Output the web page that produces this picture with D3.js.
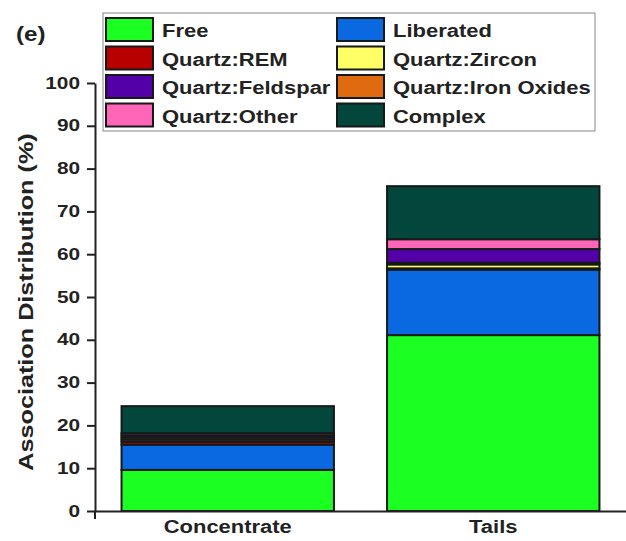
<!DOCTYPE html>
<html>
<head>
<meta charset="utf-8">
<script src="https://cdn.jsdelivr.net/npm/d3@7"></script>
<style>
  html, body { margin: 0; padding: 0; background: #fff; }
  svg { display: block; font-family: "Liberation Sans", Arial, sans-serif; }
</style>
</head>
<body>
<svg id="chart" width="626" height="541"></svg>
<script>
// Samples on the x axis
const categories = ["Concentrate", "Tails"];

// Association classes, bottom of the stack first
const seriesNames = ["Free", "Liberated", "Quartz:REM", "Quartz:Zircon",
  "Quartz:Iron Oxides", "Quartz:Feldspar", "Quartz:Other", "Complex"];

// Percent of each class, one value per sample (Concentrate, Tails)
const free        = [9.6, 41.1];
const liberated   = [5.9, 15.3];
const quartzREM   = [0.7, 0.3];
const quartzZircon= [0.5, 0.9];
const quartzIron  = [0.5, 0.4];
const quartzFeld  = [0.5, 3.2];
const quartzOther = [0.5, 2.3];
const complex     = [6.3, 12.4];

const yTicks = [0, 10, 20, 30, 40, 50, 60, 70, 80, 90, 100];

// Legend entries in reading order (two columns)
const legendOrder = ["Free", "Liberated", "Quartz:REM", "Quartz:Zircon",
  "Quartz:Feldspar", "Quartz:Iron Oxides", "Quartz:Other", "Complex"];

const colors = {
  "Free": "#1cff22",
  "Liberated": "#0a68e0",
  "Quartz:REM": "#b80000",
  "Quartz:Zircon": "#ffff66",
  "Quartz:Iron Oxides": "#e06a10",
  "Quartz:Feldspar": "#5400a8",
  "Quartz:Other": "#ff66b8",
  "Complex": "#02463c"
};

const valuesBySeries = {
  "Free": free, "Liberated": liberated, "Quartz:REM": quartzREM,
  "Quartz:Zircon": quartzZircon, "Quartz:Iron Oxides": quartzIron,
  "Quartz:Feldspar": quartzFeld, "Quartz:Other": quartzOther, "Complex": complex
};

const rows = categories.map((c, i) => {
  const r = { category: c };
  seriesNames.forEach(s => r[s] = valuesBySeries[s][i]);
  return r;
});

// Widen a text run along its direction (the labels use a broad bold face)
function widen(sel, k) {
  sel.each(function () {
    const len = this.getComputedTextLength();
    d3.select(this).attr("textLength", len * k).attr("lengthAdjust", "spacingAndGlyphs");
  });
}

const svg = d3.select("#chart");
const plotLeft = 95, plotRight = 626, plotTop = 83, plotBottom = 511;
const ink = "#222";

const x = d3.scaleBand().domain(categories).range([plotLeft, plotRight])
  .paddingInner(0.2).paddingOuter(0.1);
const y = d3.scaleLinear().domain([0, 100]).range([plotBottom, plotTop]);

const stacked = d3.stack().keys(seriesNames)(rows);

// Stacked bars
const stroke = "#151a18";
svg.append("g").selectAll("g").data(stacked).join("g")
  .attr("fill", d => colors[d.key])
  .selectAll("rect").data(d => d).join("rect")
  .attr("x", d => x(d.data.category))
  .attr("width", x.bandwidth())
  .attr("y", d => y(d[1]))
  .attr("height", d => y(d[0]) - y(d[1]))
  .attr("stroke", stroke)
  .attr("stroke-width", 2);

// Y axis
const yAxis = svg.append("g").attr("transform", `translate(${plotLeft},0)`)
  .call(d3.axisLeft(y).tickValues(yTicks).tickSize(8).tickSizeOuter(0).tickPadding(7));
yAxis.select(".domain").attr("stroke", ink).attr("stroke-width", 2);
yAxis.selectAll(".tick line").attr("stroke", ink).attr("stroke-width", 2);
yAxis.selectAll(".tick text").attr("font-size", 16).attr("font-weight", "bold")
  .attr("fill", ink).attr("font-family", "Liberation Sans, Arial, sans-serif")
  .call(widen, 1.3);

// X axis
const xAxis = svg.append("g").attr("transform", `translate(0,${plotBottom})`)
  .call(d3.axisBottom(x).tickSize(0).tickSizeOuter(0).tickPadding(9));
xAxis.select(".domain").attr("stroke", ink).attr("stroke-width", 2);
xAxis.selectAll(".tick text").attr("font-size", 18).attr("font-weight", "bold")
  .attr("fill", ink).attr("font-family", "Liberation Sans, Arial, sans-serif")
  .call(widen, 1.22);
// small tick below the origin
svg.append("line").attr("x1", plotLeft).attr("x2", plotLeft)
  .attr("y1", plotBottom).attr("y2", plotBottom + 8)
  .attr("stroke", ink).attr("stroke-width", 2);

// Y axis title
svg.append("text")
  .attr("transform", `translate(33,${(plotTop + plotBottom) / 2 + 5}) rotate(-90)`)
  .attr("text-anchor", "middle")
  .attr("font-size", 21).attr("font-weight", "bold").attr("fill", ink)
  .text("Association Distribution (%)")
  .call(widen, 1.2);

// Panel label
svg.append("text").attr("x", 16).attr("y", 41)
  .attr("font-size", 21).attr("font-weight", "bold").attr("fill", ink)
  .text("(e)")
  .call(widen, 1.15);

// Legend
const lg = svg.append("g");
lg.append("rect").attr("x", 103).attr("y", 13).attr("width", 492).attr("height", 118)
  .attr("fill", "#fff").attr("stroke", "#888").attr("stroke-width", 1);
legendOrder.forEach((name, i) => {
  const col = i % 2, row = Math.floor(i / 2);
  const sx = col === 0 ? 106 : 337;
  const sy = 18 + row * 28.5;
  lg.append("rect").attr("x", sx).attr("y", sy).attr("width", 47).attr("height", 23)
    .attr("fill", colors[name]).attr("stroke", stroke).attr("stroke-width", 2);
  lg.append("text").attr("x", sx + 56).attr("y", sy + 19)
    .attr("font-size", 18).attr("font-weight", "bold").attr("fill", ink)
    .text(name)
    .call(widen, 1.22);
});
</script>
</body>
</html>
